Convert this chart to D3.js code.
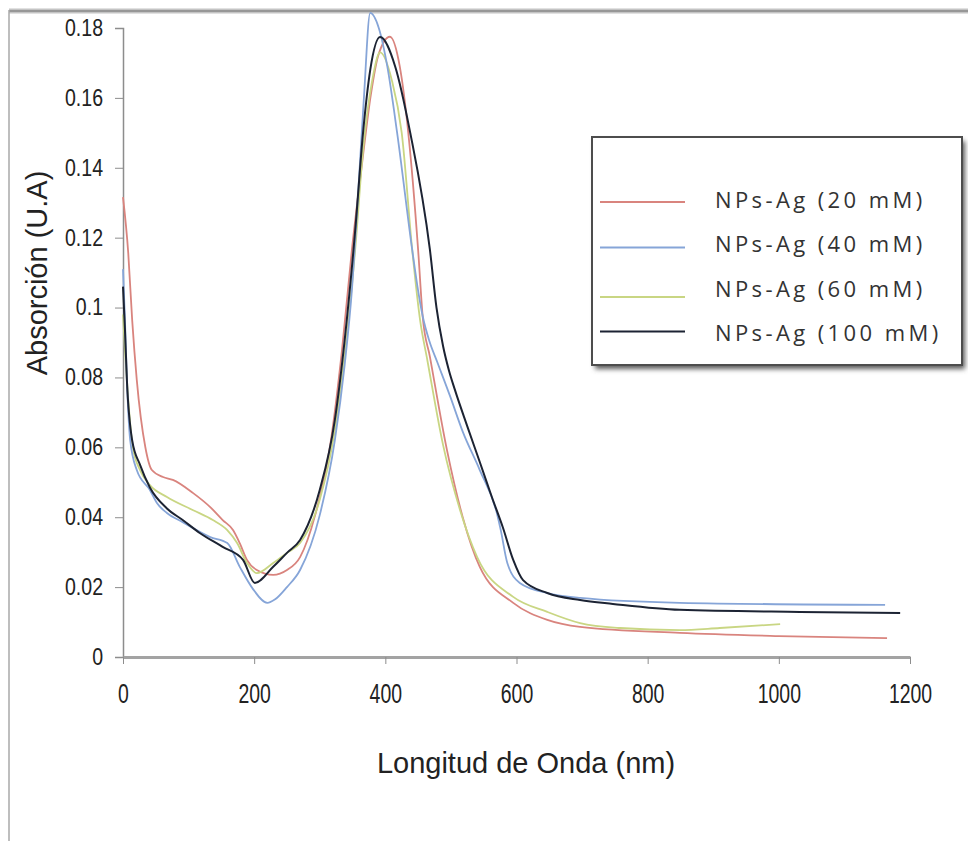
<!DOCTYPE html>
<html>
<head>
<meta charset="utf-8">
<script src="https://cdn.jsdelivr.net/npm/d3@7"></script>
<style>
  body { margin: 0; background: #fff; }
  svg { display: block; }
  .axis text { font-family: "Liberation Sans", Arial, sans-serif; fill: #222; }
</style>
</head>
<body>
<svg id="chart"></svg>
<script>
// wavelength (nm) and absorbance
const wl20 = [0, 8, 14, 21, 34, 44, 61, 76, 107, 133, 152, 168, 178, 189, 204, 229, 250, 270, 293, 316, 334, 349, 365, 378, 389, 407, 422, 435, 450, 457, 468, 494, 518, 544, 595, 647, 697, 849, 1000, 1165];
const abs20 = [0.1316, 0.1156, 0.0964, 0.0793, 0.0601, 0.0535, 0.0515, 0.0507, 0.0469, 0.0429, 0.0392, 0.0363, 0.0326, 0.0278, 0.0249, 0.0235, 0.0249, 0.0286, 0.0406, 0.0607, 0.088, 0.1165, 0.142, 0.161, 0.172, 0.1775, 0.169, 0.150, 0.1165, 0.0973, 0.0859, 0.0592, 0.040, 0.0258, 0.0155, 0.0106, 0.0086, 0.0069, 0.006, 0.0054];

const wl40 = [0, 3, 6, 11, 21, 41, 52, 67, 91, 133, 159, 178, 198, 220, 232, 250, 270, 300, 323, 338, 349, 358, 367, 377, 390, 403, 418, 441, 449, 457, 467, 479, 499, 518, 544, 570, 576, 586, 605, 647, 697, 849, 1162];
const abs40 = [0.111, 0.0964, 0.079, 0.062, 0.0535, 0.0478, 0.044, 0.0412, 0.0386, 0.0343, 0.0326, 0.0258, 0.0195, 0.0155, 0.0165, 0.020, 0.0249, 0.0406, 0.062, 0.0836, 0.105, 0.131, 0.159, 0.1843, 0.18, 0.169, 0.150, 0.1165, 0.106, 0.0975, 0.0905, 0.0845, 0.0745, 0.0645, 0.0535, 0.0412, 0.0363, 0.0269, 0.0212, 0.0183, 0.0169, 0.0155, 0.0149];

const wl60 = [0, 3, 8, 15, 26, 41, 67, 107, 137, 159, 174, 189, 204, 229, 250, 270, 300, 323, 338, 354, 366, 380, 392, 410, 425, 441, 453, 464, 488, 514, 540, 595, 647, 697, 758, 849, 910, 1002];
const abs60 = [0.098, 0.0879, 0.0735, 0.060, 0.0535, 0.0492, 0.0458, 0.042, 0.0392, 0.0363, 0.0326, 0.0269, 0.024, 0.0269, 0.0298, 0.0326, 0.045, 0.065, 0.0864, 0.1165, 0.145, 0.165, 0.173, 0.165, 0.150, 0.1165, 0.0964, 0.085, 0.0607, 0.042, 0.0286, 0.0172, 0.0129, 0.0097, 0.0083, 0.0077, 0.0083, 0.0094];

const wl100 = [0, 3, 6, 14, 26, 41, 67, 91, 117, 152, 183, 201, 229, 250, 270, 300, 323, 338, 354, 366, 377, 392, 415, 438, 468, 478, 488, 497, 506, 525, 544, 562, 579, 595, 610, 647, 697, 747, 849, 1032, 1185];
const abs100 = [0.106, 0.0936, 0.079, 0.062, 0.055, 0.0485, 0.0425, 0.0392, 0.0355, 0.0315, 0.0278, 0.0212, 0.0258, 0.0298, 0.0335, 0.0478, 0.0678, 0.0907, 0.122, 0.150, 0.168, 0.1774, 0.169, 0.150, 0.1165, 0.100, 0.089, 0.082, 0.0765, 0.066, 0.0558, 0.046, 0.0372, 0.0278, 0.022, 0.0183, 0.0163, 0.0152, 0.0135, 0.0129, 0.0126];

const seriesNames = ["NPs-Ag (20 mM)", "NPs-Ag (40 mM)", "NPs-Ag (60 mM)", "NPs-Ag (100 mM)"];
const xTicks = [0, 200, 400, 600, 800, 1000, 1200];
const yTicks = [0, 0.02, 0.04, 0.06, 0.08, 0.1, 0.12, 0.14, 0.16, 0.18];
const yTickLabels = ["0", "0.02", "0.04", "0.06", "0.08", "0.1", "0.12", "0.14", "0.16", "0.18"];

const colors = ["#d9847e", "#86a5d8", "#c9d683", "#1c2333"];

const W = 968, H = 841;
const margin = { top: 28, left: 123, right: 58, bottom: 184 };
const width = W - margin.left - margin.right;
const height = H - margin.top - margin.bottom;

const svg = d3.select("#chart").attr("width", W).attr("height", H);

// outer frame (top and left edges only visible)
svg.append("line").attr("x1", 9).attr("x2", W).attr("y1", 11).attr("y2", 11)
  .attr("stroke", "#c4c4c4").attr("stroke-width", 5);
svg.append("line").attr("x1", 9).attr("x2", W).attr("y1", 11).attr("y2", 11)
  .attr("stroke", "#979797").attr("stroke-width", 2);
svg.append("line").attr("x1", 9).attr("x2", 9).attr("y1", 10).attr("y2", H)
  .attr("stroke", "#a9a9a9").attr("stroke-width", 1.5);

const chart = svg.append("g").attr("transform", `translate(${margin.left},${margin.top})`);

const x = d3.scaleLinear().domain([0, 1200]).range([0, width]);
const y = d3.scaleLinear().domain([0, 0.18]).range([height, 0]);

// axes
const yAxis = chart.append("g").attr("class", "axis y-axis")
  .call(d3.axisLeft(y).tickValues(yTicks).tickSize(8).tickPadding(20)
    .tickFormat((d, i) => yTickLabels[i]));
yAxis.select(".domain").attr("stroke", "#8d8d8d").attr("stroke-width", 1.5);
yAxis.selectAll(".tick line").attr("stroke", "#8d8d8d");
yAxis.selectAll(".tick text")
  .attr("font-size", 23)
  .attr("transform", "scale(0.85,1)")
  .attr("x", -20 / 0.85);

const xAxis = chart.append("g").attr("class", "axis x-axis")
  .attr("transform", `translate(0,${height})`)
  .call(d3.axisBottom(x).tickValues(xTicks).tickSize(7).tickPadding(20).tickSizeOuter(0)
    .tickFormat(d3.format("d")));
xAxis.select(".domain").attr("stroke", "#a3a3a3").attr("stroke-width", 3);
xAxis.selectAll(".tick line").attr("stroke", "#8d8d8d");
xAxis.selectAll(".tick text")
  .attr("font-size", 27)
  .attr("transform", "scale(0.72,1)");

// spectra
const line = d3.line().x(d => x(d[0])).y(d => y(d[1])).curve(d3.curveMonotoneX);
const series = [
  d3.zip(wl20, abs20),
  d3.zip(wl40, abs40),
  d3.zip(wl60, abs60),
  d3.zip(wl100, abs100)
];
const drawOrder = [0, 2, 1, 3];
drawOrder.forEach(i => {
  chart.append("path")
    .datum(series[i])
    .attr("fill", "none")
    .attr("stroke", colors[i])
    .attr("stroke-width", i === 3 ? 2 : 1.8)
    .attr("d", line);
});

// axis titles
svg.append("text")
  .attr("transform", "translate(47,273) rotate(-90)")
  .attr("text-anchor", "middle")
  .attr("font-family", "'Liberation Sans', Arial, sans-serif")
  .attr("font-size", 29)
  .attr("fill", "#222")
  .text("Absorción (U.A)");

svg.append("text")
  .attr("x", 526).attr("y", 773)
  .attr("text-anchor", "middle")
  .attr("font-family", "'Liberation Sans', Arial, sans-serif")
  .attr("font-size", 29)
  .attr("fill", "#222")
  .text("Longitud de Onda (nm)");

// legend
const defs = svg.append("defs");
defs.append("filter").attr("id", "shadow").attr("x", "-10%").attr("y", "-10%")
  .attr("width", "130%").attr("height", "130%")
  .append("feGaussianBlur").attr("stdDeviation", 2.5);

const legend = svg.append("g").attr("transform", "translate(592,137)");
legend.append("rect").attr("x", 3).attr("y", 4).attr("width", 370).attr("height", 228)
  .attr("fill", "#5a5a5a").attr("filter", "url(#shadow)");
legend.append("rect").attr("width", 370).attr("height", 228)
  .attr("fill", "#fff").attr("stroke", "#4d4d4d").attr("stroke-width", 2);

const lineOffsets = [2, 3, 8, -2];
seriesNames.forEach((name, i) => {
  const ty = 63 + i * 44.5;
  legend.append("line")
    .attr("x1", 8).attr("x2", 93)
    .attr("y1", ty + lineOffsets[i]).attr("y2", ty + lineOffsets[i])
    .attr("stroke", colors[i]).attr("stroke-width", 2);
  legend.append("text")
    .attr("x", 123).attr("y", ty)
    .attr("dy", "0.35em")
    .attr("font-family", "'Open Sans', sans-serif")
    .attr("font-size", 22)
    .attr("letter-spacing", 3.4)
    .attr("fill", "#333")
    .text(name);
});
</script>
</body>
</html>
